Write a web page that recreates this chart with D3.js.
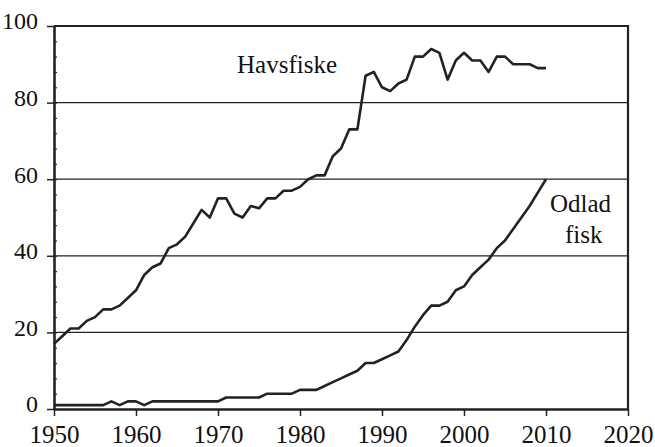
<!DOCTYPE html>
<html>
<head>
<meta charset="utf-8">
<script src="https://cdn.jsdelivr.net/npm/d3@7"></script>
<style>
  body { margin: 0; background: #fff; }
  svg, svg text { font-family: "Liberation Serif", "Times New Roman", serif; }
</style>
</head>
<body>
<div id="chart"></div>
<script>
// Fångst / produktion av fisk, 1950-2010
const years = d3.range(1950, 2011)

const havsfiske = [
  17, 19, 21, 21, 23, 24, 26, 26, 27, 29,
  31, 35, 37, 38, 42, 43, 45, 48.5, 52, 50,
  55, 55, 51, 50, 53, 52.4, 55, 55, 57, 57,
  58, 60, 61, 61, 66, 68, 73, 73, 87, 88,
  84, 83, 85, 86, 92, 92, 94, 93, 86, 91,
  93, 91, 91, 88, 92, 92, 90, 90, 90, 89,
  89
]

const odladFisk = [
  1, 1, 1, 1, 1, 1, 1, 2, 1, 2,
  2, 1, 2, 2, 2, 2, 2, 2, 2, 2,
  2, 3, 3, 3, 3, 3, 4, 4, 4, 4,
  5, 5, 5, 6, 7, 8, 9, 10, 12, 12,
  13, 14, 15, 18, 21.5, 24.5, 27, 27, 28, 31,
  32, 35, 37, 39, 42, 44, 47, 50, 53, 56.5,
  60
]

const xTicks = [1950, 1960, 1970, 1980, 1990, 2000, 2010, 2020]
const yTicks = [0, 20, 40, 60, 80, 100]
const yMinorTicks = d3.range(0, 101, 4)

const width = 655
const height = 447
const margin = { top: 26, right: 27, bottom: 38, left: 54 }
const ink = "#222"

const svg = d3.select("#chart")
  .append("svg")
  .attr("width", width)
  .attr("height", height)

const x = d3.scaleLinear().domain([1950, 2020]).range([margin.left, width - margin.right])
const y = d3.scaleLinear().domain([0, 100]).range([height - margin.bottom, margin.top])

// Gridlines
svg.append("g")
  .selectAll("line")
  .data([20, 40, 60, 80])
  .join("line")
  .attr("x1", x(1950)).attr("x2", x(2020))
  .attr("y1", d => y(d)).attr("y2", d => y(d))
  .attr("stroke", ink)
  .attr("stroke-width", 1.3)

// Top and right border
svg.append("path")
  .attr("d", `M${x(1950)},${y(100)}H${x(2020)}V${y(0)}`)
  .attr("fill", "none")
  .attr("stroke", ink)
  .attr("stroke-width", 2.2)

// Minor ticks on y axis (inside)
svg.append("g")
  .attr("transform", `translate(${x(1950)},0)`)
  .call(d3.axisRight(y).tickValues(yMinorTicks).tickSize(3).tickFormat(""))
  .call(g => g.select(".domain").remove())
  .call(g => g.selectAll("line").attr("stroke", ink).attr("stroke-width", 1.2))

// Y axis
svg.append("g")
  .attr("transform", `translate(${x(1950)},0)`)
  .call(d3.axisLeft(y).tickValues(yTicks).tickSize(7).tickSizeOuter(0).tickPadding(9))
  .attr("font-family", null)
  .call(g => g.select(".domain").attr("stroke", ink).attr("stroke-width", 2.6))
  .call(g => g.selectAll("line").attr("stroke", ink).attr("stroke-width", 1.5))
  .call(g => g.selectAll("text")
    .attr("font-size", 24)
    .attr("fill", "#111")
    .attr("dy", "0.12em"))

// X axis
svg.append("g")
  .attr("transform", `translate(0,${y(0)})`)
  .call(d3.axisBottom(x).tickValues(xTicks).tickFormat(d3.format("d")).tickSize(7).tickSizeOuter(0).tickPadding(9))
  .attr("font-family", null)
  .call(g => g.select(".domain").attr("stroke", ink).attr("stroke-width", 2.6))
  .call(g => g.selectAll("line").attr("stroke", ink).attr("stroke-width", 1.5))
  .call(g => g.selectAll("text")
    .attr("font-size", 25)
    .attr("fill", "#111"))

// Lines
const line = d3.line()
  .x((d, i) => x(years[i]))
  .y(d => y(d))

svg.append("path")
  .datum(havsfiske)
  .attr("d", line)
  .attr("fill", "none")
  .attr("stroke", ink)
  .attr("stroke-width", 2.6)
  .attr("stroke-linejoin", "round")

svg.append("path")
  .datum(odladFisk)
  .attr("d", line)
  .attr("fill", "none")
  .attr("stroke", ink)
  .attr("stroke-width", 2.6)
  .attr("stroke-linejoin", "round")

// Labels
const labels = svg.append("g")
  .attr("font-size", 25)
  .attr("fill", "#111")

labels.append("text").attr("x", 237).attr("y", 73).text("Havsfiske")
labels.append("text").attr("x", 550).attr("y", 212).text("Odlad")
labels.append("text").attr("x", 565).attr("y", 243).text("fisk")
</script>
</body>
</html>
